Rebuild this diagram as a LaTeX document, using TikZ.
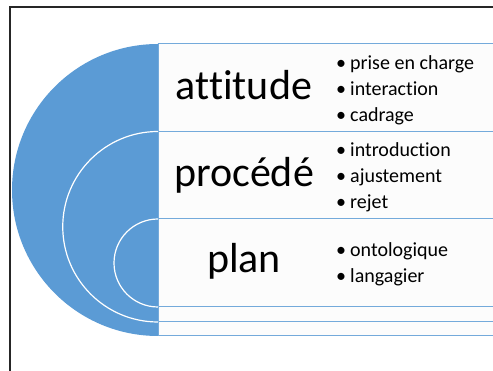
\documentclass[tikz,border=0pt]{standalone}
\usepackage{fontspec}
\setmainfont{Carlito}[Ligatures=NoCommon]
\definecolor{Dblue}{HTML}{5B9BD5}
\newcommand{\Ditem}[1]{\makebox[14pt][l]{\textbullet}#1}
\tikzset{%
    Dband/.style={draw=Dblue!85, line width=1pt, fill=black!1},
    Dring/.style={draw=white, line width=1.2pt},
    Dword/.style={font=\fontsize{42}{50}\selectfont, inner sep=0pt, anchor=base},
    Dlist/.style={font=\fontsize{20}{26}\selectfont, align=left, inner sep=0pt, anchor=west},
    Dframe/.style={line width=2pt, draw=black!85}
}

\begin{document}
\begin{tikzpicture}[x=1pt,y=1pt]
        \useasboundingbox (0,0) rectangle (493,371);
        \clip (0,0) rectangle (493,371);
        \path
            (158,327) coordinate (Ntop)
            (158,239.5) coordinate (Nmid)
            (158,152) coordinate (Nin);
        \draw[Dframe] (10,-10)--(10,363.5)--(500,363.5);
        \fill[Dblue] (Ntop) arc[start angle=90, end angle=270, radius=146];
        \foreach \t/\b in {327/239.5, 239.5/152, 152/64, 64/49, 49/35}
            \draw[Dband] (158,\t) rectangle (510,\b);
        \draw[Dring] (Nmid) arc[start angle=90, end angle=270, radius=95.25];
        \draw[Dring] (Nin) arc[start angle=90, end angle=270, radius=44];
        % words
        \node[Dword] (Natt) at (244,271) {attitude};
        \node[Dword] (Nproc) at (244,184) {procédé};
        \node[Dword] (Nplan) at (244,98) {plan};
        % lists
        \node[Dlist] (Latt) at (336,281) {\Ditem{prise en charge}\\ \Ditem{interaction}\\ \Ditem{cadrage}};
        \node[Dlist] (Lproc) at (336,194) {\Ditem{introduction}\\ \Ditem{ajustement}\\ \Ditem{rejet}};
        \node[Dlist] (Lplan) at (336,107) {\Ditem{ontologique}\\ \Ditem{langagier}};
    \end{tikzpicture}
\end{document}
